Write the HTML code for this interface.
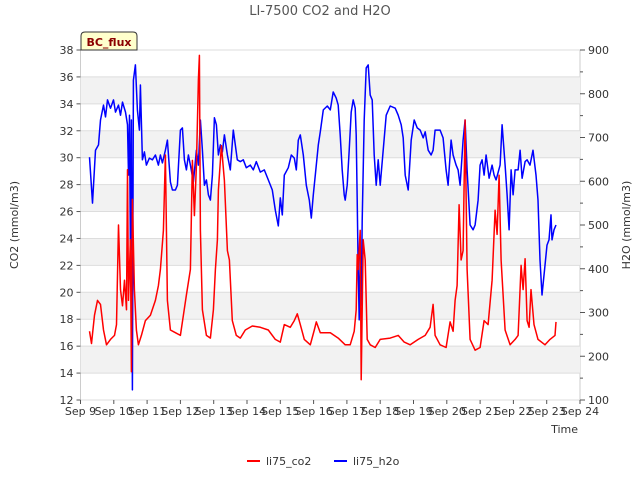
<!DOCTYPE html>
<html><head><meta charset="utf-8"><style>
body{margin:0;background:#fff;font-family:"Liberation Sans","DejaVu Sans",sans-serif}
svg text{font-family:"DejaVu Sans","Liberation Sans",sans-serif}
</style></head><body>
<svg id="c" width="640" height="480" viewBox="0 0 640 480" xmlns="http://www.w3.org/2000/svg"></svg>
<script>
const xTickLabels=["Sep 9","Sep 10","Sep 11","Sep 12","Sep 13","Sep 14","Sep 15","Sep 16","Sep 17","Sep 18","Sep 19","Sep 20","Sep 21","Sep 22","Sep 23","Sep 24"];
const yLeftTicks=[12,14,16,18,20,22,24,26,28,30,32,34,36,38];
const yRightTicks=[100,200,300,400,500,600,700,800,900];
const co2Days=[0.27,0.33,0.42,0.51,0.6,0.69,0.78,0.9,1.02,1.08,1.14,1.2,1.26,1.32,1.38,1.41,1.44,1.5,1.53,1.56,1.62,1.68,1.74,1.83,1.95,2.1,2.25,2.34,2.4,2.49,2.55,2.61,2.7,2.85,3.0,3.09,3.18,3.3,3.36,3.42,3.48,3.54,3.57,3.6,3.66,3.78,3.9,3.99,4.05,4.11,4.14,4.23,4.32,4.41,4.47,4.56,4.68,4.8,4.95,5.16,5.4,5.64,5.85,6.0,6.12,6.3,6.42,6.51,6.6,6.72,6.9,7.02,7.08,7.2,7.5,7.74,7.95,8.1,8.22,8.28,8.31,8.34,8.4,8.43,8.49,8.55,8.61,8.7,8.85,9.0,9.3,9.54,9.72,9.9,10.14,10.35,10.5,10.59,10.65,10.8,10.98,11.1,11.19,11.25,11.31,11.37,11.43,11.49,11.55,11.61,11.7,11.85,12.0,12.12,12.24,12.36,12.45,12.51,12.57,12.63,12.75,12.9,13.05,13.14,13.23,13.29,13.35,13.41,13.47,13.53,13.62,13.74,13.95,14.1,14.25,14.28];
const co2Values=[17.1,16.2,18.3,19.4,19.1,17.2,16.1,16.5,16.8,17.6,25,20.2,19,20.9,18.7,29.1,19.4,23.9,14.1,26.9,20.2,17.2,16.1,16.8,17.9,18.3,19.4,20.5,21.7,24.6,30.2,19.4,17.2,17,16.8,18.3,19.8,21.7,29.8,25.7,29.4,35.8,37.6,24.6,18.7,16.8,16.6,18.7,21.7,23.9,27.6,30.9,28.3,23.1,22.4,17.9,16.8,16.6,17.2,17.5,17.4,17.2,16.5,16.3,17.6,17.4,17.9,18.4,17.6,16.5,16.1,17.2,17.8,17,17,16.6,16.1,16.1,17.1,18.7,22.8,21.7,24.6,13.5,23.9,22.4,16.5,16.1,15.9,16.5,16.6,16.8,16.3,16.1,16.5,16.8,17.4,19.1,16.8,16.1,15.9,17.8,17.1,19.4,20.5,26.5,22.4,23.1,32.8,21.7,16.5,15.7,15.9,17.9,17.6,20.9,26.1,24.3,28.7,22.4,17.2,16.1,16.5,16.8,22,20.2,22.5,17.9,17.4,20.2,17.6,16.5,16.1,16.5,16.8,17.8];
const h2oDays=[0.27,0.36,0.45,0.54,0.6,0.69,0.75,0.81,0.9,0.99,1.05,1.14,1.2,1.26,1.35,1.41,1.44,1.47,1.5,1.53,1.56,1.59,1.65,1.71,1.77,1.8,1.86,1.92,1.98,2.07,2.16,2.25,2.34,2.4,2.46,2.55,2.61,2.7,2.76,2.85,2.91,3.0,3.06,3.12,3.18,3.24,3.3,3.39,3.48,3.54,3.6,3.66,3.72,3.78,3.84,3.9,3.96,4.02,4.08,4.14,4.2,4.26,4.32,4.41,4.5,4.59,4.65,4.71,4.8,4.89,4.98,5.1,5.19,5.28,5.4,5.52,5.64,5.76,5.85,5.94,6.0,6.06,6.12,6.24,6.33,6.42,6.48,6.54,6.6,6.69,6.78,6.87,6.93,6.99,7.05,7.14,7.2,7.29,7.41,7.5,7.59,7.68,7.74,7.8,7.86,7.92,7.95,8.01,8.07,8.13,8.19,8.25,8.28,8.31,8.34,8.37,8.4,8.43,8.46,8.52,8.58,8.64,8.7,8.76,8.82,8.88,8.94,9.0,9.09,9.18,9.3,9.45,9.54,9.63,9.69,9.75,9.84,9.93,10.02,10.11,10.2,10.29,10.35,10.44,10.53,10.59,10.65,10.8,10.89,10.98,11.04,11.13,11.19,11.28,11.34,11.4,11.49,11.55,11.61,11.7,11.79,11.85,11.94,12.0,12.06,12.12,12.18,12.27,12.36,12.42,12.48,12.6,12.66,12.75,12.81,12.87,12.93,12.99,13.05,13.14,13.2,13.26,13.35,13.41,13.5,13.59,13.68,13.74,13.8,13.86,13.95,14.01,14.07,14.13,14.16,14.22,14.28];
const h2oValues=[655,550,671,683,740,774,747,786,767,786,758,774,751,781,758,729,614,751,443,740,123,831,866,763,717,820,649,667,637,653,649,660,637,660,642,671,694,598,580,580,591,717,722,649,626,660,637,598,671,637,740,671,591,603,569,557,614,745,729,660,683,667,706,660,626,717,683,649,645,649,631,637,626,645,621,626,603,580,534,498,562,523,614,631,660,653,626,694,706,660,591,557,516,569,614,683,713,763,772,763,804,790,774,706,626,569,557,591,671,758,786,767,706,557,397,283,438,317,511,740,859,866,797,786,660,591,649,591,671,751,772,767,751,729,699,614,580,694,740,722,717,699,713,671,660,671,717,717,699,626,591,694,660,637,626,591,694,740,626,500,489,500,557,637,649,614,660,607,637,614,603,637,729,637,569,489,626,569,626,626,671,607,645,649,637,671,614,557,420,340,408,454,466,523,466,489,500];

const svg=document.getElementById('c');
const NS='http://www.w3.org/2000/svg';
const X0=80.5,X1=580,Y0=50,Y1=400;
const xs=d=>X0+(X1-X0)*d/15;
const yl=v=>Y1-(Y1-Y0)*(v-12)/26;
const yr=v=>Y1-(Y1-Y0)*(v-100)/800;
function mk(tag,attrs,parent){const e=document.createElementNS(NS,tag);for(const k in attrs)e.setAttribute(k,attrs[k]);(parent||svg).appendChild(e);return e;}
function txt(s,attrs){const e=mk('text',attrs);e.textContent=s;return e;}

let t=txt('LI-7500 CO2 and H2O',{x:320,y:15,'text-anchor':'middle','font-size':13,fill:'#555'});


let bg=mk('rect',{x:X0,y:Y0,width:X1-X0,height:Y1-Y0,fill:'#fff',stroke:'#ccc'});

for(let v=14;v<=34;v+=4){
  const b=mk('rect',{x:X0,y:yl(v+2),width:X1-X0,height:yl(v)-yl(v+2),fill:'#f2f2f2'});
  
}
yLeftTicks.forEach(v=>{
  const g=mk('line',{x1:X0,x2:X1,y1:yl(v),y2:yl(v),stroke:'#ddd','stroke-width':1});
  
  const tk=mk('line',{x1:X0-4,x2:X0,y1:yl(v),y2:yl(v),stroke:'#555'});
  
  const l=txt(String(v),{x:X0-7,y:yl(v)+4,'text-anchor':'end','font-size':11,fill:'#333'});
  
});
yRightTicks.forEach((v,i)=>{
  const tk=mk('line',{x1:X1,x2:X1+5,y1:yr(v),y2:yr(v),stroke:'#555'});
  
  if(i<yRightTicks.length-1){const m=mk('line',{x1:X1,x2:X1+3,y1:yr(v+50),y2:yr(v+50),stroke:'#555'});
  }
  const l=txt(String(v),{x:X1+8,y:yr(v)+4,'font-size':11,fill:'#333'});
  
});
xTickLabels.forEach((s,i)=>{
  const tk=mk('line',{x1:xs(i),x2:xs(i),y1:Y1,y2:Y1+4,stroke:'#555'});
  
  const l=txt(s,{x:xs(i),y:Y1+15,'text-anchor':'middle','font-size':11,fill:'#333'});
  
});
function series(days,vals,sc,color,name){
  const n=Math.min(days.length,vals.length);
  const pts=[];for(let i=0;i<n;i++)pts.push(xs(days[i]).toFixed(1)+','+sc(vals[i]).toFixed(1));
  const p=mk('polyline',{points:pts.join(' '),fill:'none',stroke:color,'stroke-width':1.5,'stroke-linejoin':'round'});
  
}
series(h2oDays,h2oValues,yr,'#0000ff','h2o-line');
series(co2Days,co2Values,yl,'#ff0000','co2-line');

let a=txt('CO2 (mmol/m3)',{x:18,y:225,'text-anchor':'middle','font-size':11,fill:'#333',transform:'rotate(-90 18 225)'});

a=txt('H2O (mmol/m3)',{x:630,y:225,'text-anchor':'middle','font-size':11,fill:'#333',transform:'rotate(-90 630 225)'});

a=txt('Time',{x:578,y:433,'text-anchor':'end','font-size':11,fill:'#333'});


let bx=mk('path',{d:'M81,50 L81,36 Q81,32 85,32 L133,32 Q137,32 137,36 L137,50 Z',fill:'#ffffcc',stroke:'#333'});

a=txt('BC_flux',{x:109,y:46,'text-anchor':'middle','font-size':11,'font-weight':'bold',fill:'#8b0000'});


let lg=mk('line',{x1:247,x2:260,y1:461,y2:461,stroke:'#ff0000','stroke-width':2});

a=txt('li75_co2',{x:266,y:465,'font-size':11,fill:'#333'});

lg=mk('line',{x1:334,x2:347,y1:461,y2:461,stroke:'#0000ff','stroke-width':2});

a=txt('li75_h2o',{x:353,y:465,'font-size':11,fill:'#333'});

</script>
</body></html>
